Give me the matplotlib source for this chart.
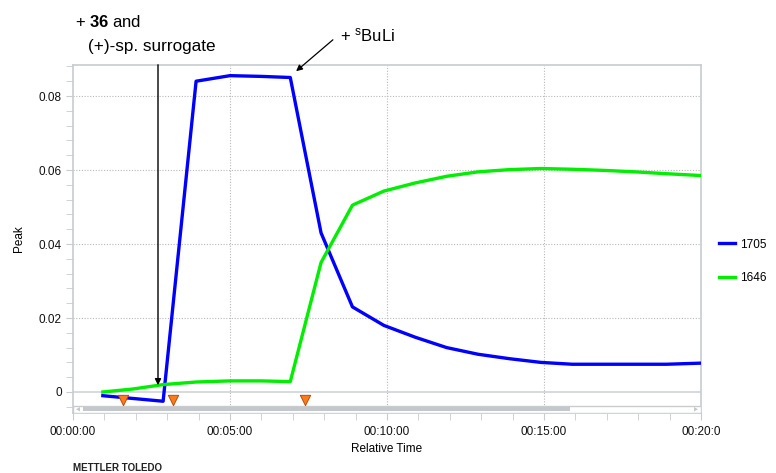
import matplotlib
matplotlib.use("Agg")
import matplotlib.pyplot as plt
from matplotlib.patches import Rectangle, Polygon
from matplotlib.ticker import MultipleLocator, FuncFormatter
import matplotlib.transforms as mtransforms

plt.rcParams['font.family'] = ['Liberation Sans', 'DejaVu Sans']
plt.rcParams['mathtext.fontset'] = 'custom'
plt.rcParams['mathtext.rm'] = 'Liberation Sans'
plt.rcParams['mathtext.bf'] = 'Liberation Sans:bold'
plt.rcParams['mathtext.it'] = 'Liberation Sans:italic'

# ---- data (time in minutes) ----
t_1705 = [0.95, 2.87, 3.92, 5.0, 6.0, 6.92, 7.9, 8.9, 9.9, 10.9, 11.9, 12.9, 13.9, 14.9, 15.9, 16.9, 17.9, 18.9, 20.0]
y_1705 = [-0.001, -0.0025, 0.084, 0.0855, 0.0853, 0.085, 0.043, 0.023, 0.018, 0.0148, 0.012, 0.0102, 0.009, 0.008, 0.0075, 0.0075, 0.0075, 0.0075, 0.0078]
t_1646 = [0.95, 1.9, 2.87, 3.92, 5.0, 6.0, 6.92, 7.9, 8.9, 9.9, 10.9, 11.9, 12.9, 13.9, 14.9, 15.9, 16.9, 17.9, 18.9, 20.0]
y_1646 = [0.0, 0.0008, 0.002, 0.0027, 0.003, 0.003, 0.0028, 0.035, 0.0505, 0.0543, 0.0565, 0.0583, 0.0595, 0.0601, 0.0604, 0.0602, 0.0599, 0.0595, 0.059, 0.0585]
series_names = ["1705", "1646"]
series_colors = ["#0000ff", "#00ee00"]
event_times = [1.6, 3.2, 7.4]
x_tick_labels = ["00:00:00", "00:05:00", "00:10:00", "00:15:00", "00:20:0"]

W, H = 776, 473
fig = plt.figure(figsize=(W / 100, H / 100), dpi=100)
ax = fig.add_axes([73 / W, 1 - 413 / H, (701 - 73) / W, (413 - 65) / H])

frame_c = "#c8ccd0"
grid_c = "#b8b8b8"

ax.plot(t_1705, y_1705, color=series_colors[0], lw=2.4, label=series_names[0], zorder=4, solid_joinstyle='round')
ax.plot(t_1646, y_1646, color=series_colors[1], lw=2.4, label=series_names[1], zorder=4, solid_joinstyle='round')

ax.set_xlim(0, 20)
ax.set_ylim(-0.005676, 0.08838)

# grid
for v in [0.02, 0.04, 0.06, 0.08]:
    ax.axhline(v, color=grid_c, lw=0.8, ls=(0, (1, 1.5)), zorder=1)
ax.axhline(0, color="#d0d4d8", lw=1.2, zorder=1)
for v in [5, 10, 15]:
    ax.axvline(v, color=grid_c, lw=0.8, ls=(0, (1, 1.5)), zorder=1)

# event markers
trans_mark = mtransforms.blended_transform_factory(ax.transData, ax.transAxes)
ax.scatter(event_times, [(413 - 400) / 348] * len(event_times), marker='v', s=55,
           color="#ff7a1a", edgecolor="#b05010", linewidths=0.7, transform=trans_mark, zorder=6, clip_on=False)

# scrollbar
ax.add_patch(Rectangle((0.0, 0.0), 1.0, 7.5 / 348, transform=ax.transAxes, facecolor="white",
                       edgecolor=frame_c, lw=1.0, zorder=5))
ax.add_patch(Rectangle(((83 - 73) / 628, 2 / 348), (570 - 83) / 628, 4.5 / 348, transform=ax.transAxes,
                       facecolor="#c4c8cc", edgecolor="none", zorder=6))
ax.add_patch(Polygon([(3 / 628, 3.75 / 348), (7 / 628, 6 / 348), (7 / 628, 1.5 / 348)], closed=True,
                     transform=ax.transAxes, facecolor="#c4c8cc", edgecolor="none", zorder=7))
ax.add_patch(Polygon([(1 - 3 / 628, 3.75 / 348), (1 - 7 / 628, 6 / 348), (1 - 7 / 628, 1.5 / 348)], closed=True,
                     transform=ax.transAxes, facecolor="#c4c8cc", edgecolor="none", zorder=7))

# spines
for s in ax.spines.values():
    s.set_color(frame_c)
    s.set_linewidth(1.2)

# ticks
ax.xaxis.set_major_locator(MultipleLocator(5))
ax.xaxis.set_minor_locator(MultipleLocator(1))
ax.xaxis.set_major_formatter(FuncFormatter(lambda v, p: x_tick_labels[int(round(v / 5))] if 0 <= round(v / 5) < len(x_tick_labels) else ""))
ax.yaxis.set_major_locator(MultipleLocator(0.02))
ax.yaxis.set_minor_locator(MultipleLocator(0.004))
ax.yaxis.set_major_formatter(FuncFormatter(lambda v, p: "0" if abs(v) < 1e-9 else f"{v:.2f}"))
ax.tick_params(axis='both', which='both', direction='out', color=frame_c, labelsize=8.5, labelcolor="#111111")
ax.tick_params(axis='x', which='major', length=5, pad=4)
ax.tick_params(axis='x', which='minor', length=5)
ax.tick_params(axis='y', which='major', length=5, pad=3)
ax.tick_params(axis='y', which='minor', length=5)

ax.set_xlabel("Relative Time", fontsize=8.5, labelpad=4)
ax.set_ylabel("Peak", fontsize=8.5, labelpad=10)

# legend
leg = fig.legend(handles=ax.get_lines(), labels=series_names, loc='center left',
                 bbox_to_anchor=(708 / W, 1 - 261.5 / H), frameon=False, fontsize=8.5,
                 handlelength=1.35, handletextpad=0.45, labelspacing=1.85)

# annotations
fig.text(75 / W, 1 - 22 / H, r"+ $\mathbf{36}$ and", fontsize=12, va='center', ha='left')
fig.text(88 / W, 1 - 47 / H, "(+)-sp. surrogate", fontsize=12.3, va='center', ha='left')
fig.text(340 / W, 1 - 35 / H, r"+ $^{\mathrm{s}}$BuLi", fontsize=12, va='center', ha='left')

ax.annotate("", xy=(158 / W, 1 - 388 / H), xycoords='figure fraction',
            xytext=(158 / W, 1 - 62 / H), textcoords='figure fraction',
            arrowprops=dict(arrowstyle='-|>', color='black', lw=1.0, mutation_scale=9), zorder=8)
ax.annotate("", xy=(294 / W, 1 - 73 / H), xycoords='figure fraction',
            xytext=(335 / W, 1 - 38 / H), textcoords='figure fraction',
            arrowprops=dict(arrowstyle='-|>', color='black', lw=0.9, mutation_scale=9), zorder=8)

fig.text(73 / W, 1 - 468 / H, "METTLER TOLEDO", fontsize=7, va='center', ha='left', color="#222222",
         fontweight='bold', fontstretch='expanded')

fig.savefig("out.png", dpi=100)
